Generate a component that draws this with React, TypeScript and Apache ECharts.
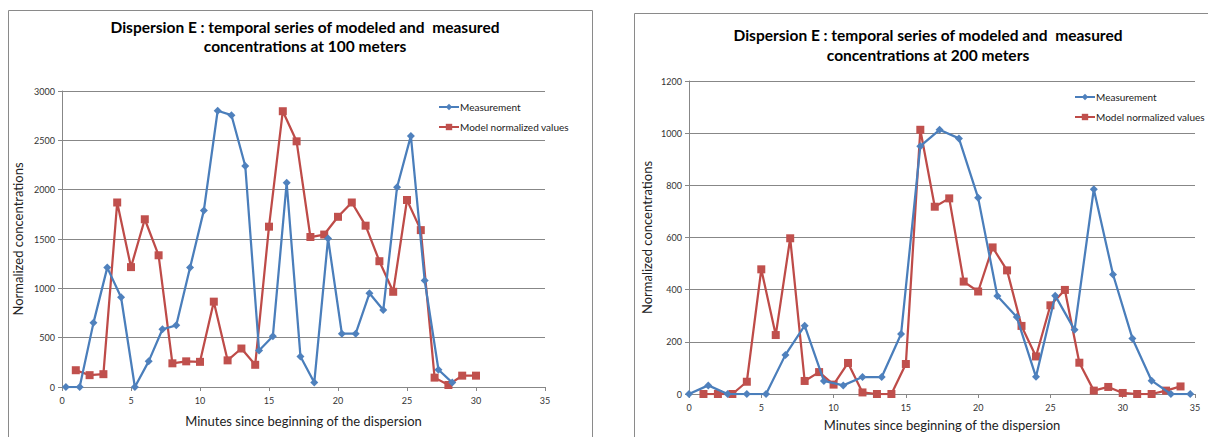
import React, { useEffect, useRef } from "react";
import * as echarts from "echarts";

const FONT = "Lato, 'Open Sans', sans-serif";

const title100 = "Dispersion E : temporal series of modeled and  measured\nconcentrations at 100 meters";
const title200 = "Dispersion E : temporal series of modeled and  measured\nconcentrations at 200 meters";
const xAxisTitle = "Minutes since beginning of the dispersion";
const yAxisTitle = "Normalized concentrations";
const seriesNames = ["Measurement", "Model normalized values"];

// 100 m chart
const minutes100Measured = [0.28, 1.28, 2.28, 3.28, 4.28, 5.28, 6.28, 7.28, 8.28, 9.28, 10.28, 11.28, 12.28, 13.28, 14.28, 15.28, 16.28, 17.28, 18.28, 19.28, 20.28, 21.28, 22.28, 23.28, 24.28, 25.28, 26.28, 27.28, 28.28];
const measured100 = [0, 0, 650, 1210, 910, 0, 260, 585, 625, 1210, 1790, 2800, 2755, 2240, 370, 515, 2070, 310, 45, 1505, 540, 540, 950, 780, 2025, 2545, 1080, 175, 45];
const minutes100Model = [1, 2, 3, 4, 5, 6, 7, 8, 9, 10, 11, 12, 13, 14, 15, 16, 17, 18, 19, 20, 21, 22, 23, 24, 25, 26, 27, 28, 29, 30];
const model100 = [170, 120, 130, 1870, 1215, 1700, 1335, 240, 260, 255, 865, 270, 390, 225, 1625, 2795, 2490, 1520, 1545, 1725, 1870, 1635, 1275, 965, 1895, 1590, 95, 20, 115, 115];

// 200 m chart
const minutes200Measured = [0, 1.33, 2.67, 4, 5.33, 6.67, 8, 9.33, 10.67, 12, 13.33, 14.67, 16, 17.33, 18.67, 20, 21.33, 22.67, 24, 25.33, 26.67, 28, 29.33, 30.67, 32, 33.33, 34.67];
const measured200 = [0, 33, 0, 0, 0, 150, 262, 50, 33, 65, 65, 230, 950, 1013, 980, 752, 376, 295, 66, 377, 246, 785, 458, 213, 51, 0, 0];
const minutes200Model = [1, 2, 3, 4, 5, 6, 7, 8, 9, 10, 11, 12, 13, 14, 15, 16, 17, 18, 19, 20, 21, 22, 23, 24, 25, 26, 27, 28, 29, 30, 31, 32, 33, 34];
const model200 = [0, 0, 0, 47, 478, 226, 597, 50, 84, 36, 119, 6, 0, 0, 115, 1013, 718, 750, 431, 393, 562, 474, 261, 144, 340, 399, 120, 13, 27, 4, 0, 0, 13, 29];

const xTicks = { min: 0, max: 35, interval: 5 };
const yTicks100 = { min: 0, max: 3000, interval: 500 };
const yTicks200 = { min: 0, max: 1200, interval: 200 };

const BLUE_LINE = "#4A7EBB";
const BLUE_MARK = "#4F81BD";
const RED_LINE = "#BE4B48";
const RED_MARK = "#C0504D";
const GRID_GRAY = "#878787";

const zip = (xs: number[], ys: number[]) => xs.map((x, i) => [x, ys[i]]);

export default function App() {
  const ref = useRef<HTMLDivElement>(null);
  useEffect(() => {
    document.body.style.margin = "0";
    const chart = echarts.init(ref.current!, null, { renderer: "svg" });

    const xAxis = (gridIndex: number, gap: number) => ({
      type: "value",
      gridIndex,
      ...xTicks,
      name: xAxisTitle,
      nameLocation: "middle",
      nameGap: gap,
      nameTextStyle: { fontFamily: FONT, fontSize: 13, color: "#222" },
      axisLine: { show: true, onZero: false, lineStyle: { color: GRID_GRAY, width: 1 } },
      axisTick: { show: true, length: 4, lineStyle: { color: GRID_GRAY } },
      axisLabel: { fontFamily: FONT, fontSize: 9, color: "#333", margin: 9, formatter: (v: number) => String(v) },
      splitLine: { show: false },
    });
    const yAxis = (gridIndex: number, ticks: any, gap: number) => ({
      type: "value",
      gridIndex,
      ...ticks,
      name: yAxisTitle,
      nameLocation: "middle",
      nameGap: gap,
      nameRotate: 90,
      nameTextStyle: { fontFamily: FONT, fontSize: 13, color: "#222" },
      axisLine: { show: true, lineStyle: { color: GRID_GRAY, width: 1 } },
      axisTick: { show: true, length: 4, lineStyle: { color: GRID_GRAY } },
      axisLabel: { fontFamily: FONT, fontSize: 9, color: "#333", margin: 7, formatter: (v: number) => String(v) },
      splitLine: { show: true, lineStyle: { color: GRID_GRAY, width: 1 } },
    });
    const measSeries = (idx: number, data: number[][]) => ({
      type: "line",
      name: seriesNames[0],
      xAxisIndex: idx,
      yAxisIndex: idx,
      data,
      symbol: "diamond",
      symbolSize: 8,
      lineStyle: { color: BLUE_LINE, width: 2.25 },
      itemStyle: { color: BLUE_MARK },
      z: 3,
    });
    const modelSeries = (idx: number, data: number[][]) => ({
      type: "line",
      name: seriesNames[1],
      xAxisIndex: idx,
      yAxisIndex: idx,
      data,
      symbol: "rect",
      symbolSize: 8,
      lineStyle: { color: RED_LINE, width: 2.25 },
      itemStyle: { color: RED_MARK },
      z: 2,
    });
    const legend = (left: number, top: number) => ({
      orient: "vertical",
      left,
      top,
      itemWidth: 20,
      itemHeight: 8,
      itemGap: 10,
      data: seriesNames,
      textStyle: { fontFamily: FONT, fontSize: 10, color: "#222", padding: [0, 0, 0, -4] },
    });
    const titleStyle = { fontFamily: FONT, fontSize: 15.5, fontWeight: "bold", color: "#000", lineHeight: 19 };

    chart.setOption({
      animation: false,
      backgroundColor: "#fff",
      graphic: [
        { type: "rect", shape: { x: 8.5, y: 10.5, width: 584, height: 440 }, style: { fill: "none", stroke: "#8a8a8a", lineWidth: 1 }, silent: true },
        { type: "rect", shape: { x: 634.5, y: 13.5, width: 600, height: 440 }, style: { fill: "none", stroke: "#8a8a8a", lineWidth: 1 }, silent: true },
      ],
      title: [
        { text: title100, left: 300, top: 12, textAlign: "center", textStyle: titleStyle },
        { text: title200, left: 923, top: 20, textAlign: "center", textStyle: { ...titleStyle, lineHeight: 20 } },
      ],
      legend: [legend(433, 97), legend(1069, 87)],
      grid: [
        { left: 62, top: 91, width: 483, height: 296 },
        { left: 689, top: 81, width: 506, height: 313 },
      ],
      xAxis: [xAxis(0, 27), xAxis(1, 24)],
      yAxis: [yAxis(0, yTicks100, 38), yAxis(1, yTicks200, 36)],
      series: [
        measSeries(0, zip(minutes100Measured, measured100)),
        modelSeries(0, zip(minutes100Model, model100)),
        measSeries(1, zip(minutes200Measured, measured200)),
        modelSeries(1, zip(minutes200Model, model200)),
      ],
    });
    return () => chart.dispose();
  }, []);
  return <div ref={ref} style={{ width: 1208, height: 437 }} />;
}
